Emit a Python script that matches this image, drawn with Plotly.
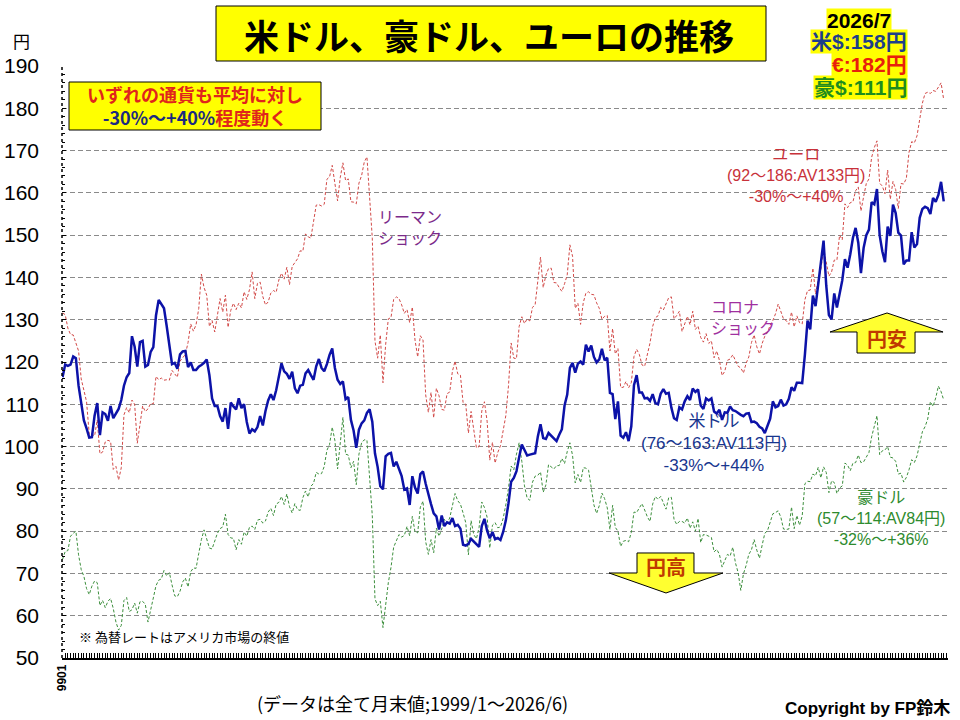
import plotly.graph_objects as go

# 月末値 1999/1 ～ 2026/6, 最後は 2026/7 現在値
usd_jpy = [
    116.4, 119.4, 119.1, 119.4, 121.3, 120.9, 114.4, 110.0, 106.2, 104.3, 102.1, 102.2,  # 1999
    107.3, 110.3, 102.7, 108.1, 107.7, 106.1, 109.6, 106.7, 108.0, 108.9, 111.0, 114.4,  # 2000
    116.4, 117.4, 126.1, 123.6, 118.9, 124.7, 125.0, 118.9, 119.3, 122.4, 123.5, 131.0,  # 2001
    134.7, 133.6, 132.7, 128.5, 124.0, 119.5, 119.8, 118.4, 121.8, 122.5, 122.6, 118.8,  # 2002
    119.9, 118.1, 118.1, 118.9, 119.3, 119.8, 120.6, 116.9, 111.4, 109.6, 109.6, 107.2,  # 2003
    105.9, 109.1, 104.2, 110.4, 109.5, 108.8, 111.4, 109.1, 110.0, 105.8, 103.1, 104.1,  # 2004
    103.6, 104.6, 107.2, 105.0, 108.4, 110.9, 112.4, 111.0, 113.3, 116.4, 119.7, 117.8,  # 2005
    117.2, 116.0, 117.7, 113.8, 112.6, 114.4, 114.6, 117.3, 118.1, 116.9, 115.8, 119.0,  # 2006
    120.7, 118.6, 117.8, 119.5, 121.7, 123.2, 118.6, 115.8, 114.8, 115.4, 111.2, 111.7,  # 2007
    106.3, 103.8, 99.7, 104.0, 105.5, 106.2, 108.0, 108.8, 105.9, 98.4, 95.2, 90.6,  # 2008
    89.9, 97.7, 98.3, 98.5, 95.3, 96.4, 94.7, 93.0, 89.8, 90.1, 86.2, 93.0,  # 2009
    90.3, 88.9, 93.5, 94.1, 91.2, 88.4, 86.4, 84.2, 83.5, 80.4, 83.7, 81.2,  # 2010
    82.1, 81.8, 83.1, 81.2, 81.5, 80.6, 76.8, 76.6, 77.0, 78.2, 77.6, 76.9,  # 2011
    76.3, 81.2, 82.9, 80.1, 78.3, 79.8, 78.1, 78.4, 77.9, 79.8, 82.5, 86.6,  # 2012
    91.7, 92.6, 94.2, 97.5, 100.5, 99.2, 97.9, 98.1, 98.3, 98.4, 102.4, 105.3,  # 2013
    102.0, 101.8, 103.2, 102.5, 101.8, 101.3, 102.8, 104.1, 109.7, 112.3, 118.6, 119.8,  # 2014
    117.5, 119.6, 120.1, 119.4, 124.1, 122.5, 123.9, 121.2, 119.9, 120.6, 123.1, 120.4,  # 2015
    121.0, 112.7, 112.4, 106.5, 110.7, 102.6, 102.1, 103.4, 101.3, 104.8, 114.5, 116.9,  # 2016
    112.8, 112.8, 111.4, 111.5, 110.8, 112.4, 110.3, 110.0, 112.5, 113.6, 112.5, 112.7,  # 2017
    109.2, 106.7, 106.3, 109.3, 108.8, 110.7, 111.9, 111.0, 113.7, 112.9, 113.5, 109.7,  # 2018
    108.9, 111.4, 110.9, 111.4, 108.3, 107.8, 108.7, 106.3, 108.1, 108.0, 109.5, 108.6,  # 2019
    108.4, 107.9, 107.5, 107.2, 107.8, 107.9, 105.8, 105.9, 105.5, 104.7, 104.3, 103.2,  # 2020
    104.7, 106.6, 110.7, 109.3, 109.6, 111.1, 109.7, 110.0, 111.3, 114.0, 113.2, 115.1,  # 2021
    115.1, 115.0, 121.7, 129.8, 127.7, 135.7, 133.2, 138.7, 144.7, 148.7, 138.1, 131.1,  # 2022
    130.1, 136.2, 132.9, 136.3, 139.3, 144.3, 142.3, 145.5, 149.4, 151.7, 148.2, 141.0,  # 2023
    147.0, 150.0, 151.3, 157.8, 157.3, 160.9, 150.0, 146.2, 143.6, 152.0, 149.8, 157.2,  # 2024
    155.2, 150.6, 149.9, 143.1, 144.0, 144.0, 150.7, 147.1, 147.9, 154.1, 156.2, 156.7,  # 2025
    156.4, 155.0, 158.8, 157.9, 159.5, 162.6, 158.0,  # 2026
]

eur_jpy = [
    131.6, 131.2, 128.0, 126.5, 126.4, 124.7, 122.6, 116.0, 113.3, 110.6, 102.9, 103.0,  # 1999
    102.5, 106.3, 98.3, 98.7, 101.1, 101.5, 101.2, 94.6, 95.3, 92.1, 95.0, 107.5,  # 2000
    109.2, 108.0, 111.0, 110.0, 100.8, 105.6, 109.6, 108.3, 108.9, 110.2, 110.1, 116.6,  # 2001
    115.8, 116.2, 115.7, 115.8, 115.7, 118.0, 117.3, 116.4, 120.2, 121.0, 121.8, 124.6,  # 2002
    129.0, 127.3, 128.8, 132.6, 140.8, 137.6, 135.8, 128.4, 129.8, 127.1, 131.5, 135.0,  # 2003
    131.8, 135.8, 128.2, 132.2, 133.9, 132.4, 133.9, 132.8, 136.6, 134.8, 137.1, 141.3,  # 2004
    135.0, 138.6, 138.9, 135.5, 133.5, 134.2, 136.3, 136.9, 136.5, 139.4, 141.0, 139.6,  # 2005
    142.4, 138.3, 142.6, 143.6, 144.4, 146.3, 146.2, 150.3, 149.6, 149.3, 153.4, 157.1,  # 2006
    157.2, 156.9, 157.3, 163.2, 163.8, 166.5, 162.2, 158.1, 163.6, 167.1, 162.9, 163.3,  # 2007
    157.9, 157.8, 157.4, 162.3, 164.1, 167.3, 168.5, 159.9, 149.3, 125.0, 120.9, 126.4,  # 2008
    115.1, 124.1, 130.2, 130.5, 134.8, 135.4, 135.0, 133.5, 131.5, 132.4, 129.3, 133.0,  # 2009
    125.2, 121.2, 126.2, 125.2, 112.2, 108.1, 112.8, 106.8, 113.8, 112.0, 108.8, 108.6,  # 2010
    112.5, 112.9, 117.8, 120.2, 117.2, 116.9, 110.4, 110.0, 103.2, 108.3, 104.4, 99.7,  # 2011
    100.0, 108.4, 110.6, 106.0, 96.8, 101.0, 96.1, 98.6, 100.2, 103.4, 107.3, 114.3,  # 2012
    124.5, 120.9, 120.8, 128.4, 130.7, 129.1, 130.2, 129.7, 132.9, 133.6, 139.2, 144.8,  # 2013
    137.6, 140.5, 142.1, 142.2, 138.8, 138.7, 137.6, 136.7, 138.5, 140.6, 147.7, 145.0,  # 2014
    132.7, 133.9, 128.9, 134.0, 136.3, 136.6, 136.0, 135.9, 134.0, 132.7, 130.1, 130.8,  # 2015
    131.0, 122.6, 127.9, 121.9, 123.2, 114.0, 114.0, 115.4, 113.9, 115.1, 121.3, 123.0,  # 2016
    121.8, 119.3, 119.0, 121.5, 124.5, 128.4, 130.5, 130.9, 132.9, 132.3, 133.9, 135.2,  # 2017
    135.4, 130.2, 131.0, 132.0, 127.2, 129.3, 130.8, 128.8, 132.0, 127.7, 128.5, 125.8,  # 2018
    124.7, 126.7, 124.4, 125.0, 121.0, 122.6, 120.4, 116.8, 117.8, 120.4, 120.7, 121.7,  # 2019
    120.2, 119.0, 118.6, 117.4, 119.7, 121.2, 124.6, 126.4, 123.6, 121.9, 124.4, 126.1,  # 2020
    127.0, 128.7, 129.8, 131.4, 133.7, 131.8, 130.2, 129.8, 128.9, 131.8, 128.3, 130.9,  # 2021
    129.3, 129.0, 134.7, 136.9, 137.0, 142.2, 136.1, 139.4, 141.8, 146.9, 143.6, 140.3,  # 2022
    141.3, 144.1, 144.1, 150.0, 148.9, 157.4, 156.5, 157.7, 157.9, 160.5, 161.4, 155.7,  # 2023
    159.1, 162.2, 163.3, 168.4, 170.7, 172.3, 162.3, 161.6, 159.8, 165.4, 158.5, 162.7,  # 2024
    160.8, 156.3, 162.2, 162.1, 163.4, 169.6, 172.1, 171.8, 173.5, 177.7, 181.2, 183.5,  # 2025
    183.8, 183.5, 184.2, 184.0, 185.0, 186.0, 182.0,  # 2026
]

aud_jpy = [
    73.3, 75.2, 75.4, 78.8, 79.5, 80.0, 74.4, 70.9, 69.3, 66.4, 65.0, 67.0,  # 1999
    68.2, 67.8, 62.4, 63.6, 61.9, 63.4, 64.1, 61.7, 58.5, 56.6, 57.7, 63.6,  # 2000
    64.3, 61.0, 61.4, 63.0, 60.6, 63.3, 63.4, 62.7, 58.5, 61.8, 64.2, 67.1,  # 2001
    68.4, 68.7, 70.7, 69.4, 70.2, 67.3, 64.7, 64.5, 65.8, 68.0, 68.9, 66.8,  # 2002
    70.4, 71.3, 71.2, 74.7, 78.0, 80.3, 78.4, 76.0, 75.8, 77.8, 79.5, 80.6,  # 2003
    81.0, 84.0, 79.2, 78.4, 78.3, 75.6, 78.0, 76.9, 79.8, 78.8, 80.9, 81.2,  # 2004
    80.4, 82.6, 82.8, 81.9, 82.4, 84.5, 85.4, 83.7, 86.4, 86.8, 88.2, 86.3,  # 2005
    88.8, 85.8, 84.3, 86.5, 85.1, 84.9, 87.9, 89.5, 88.1, 90.6, 91.3, 93.9,  # 2006
    93.5, 93.6, 95.3, 99.1, 100.5, 104.6, 101.4, 94.7, 101.8, 106.9, 98.2, 98.0,  # 2007
    95.0, 96.5, 91.0, 98.2, 100.9, 101.6, 101.5, 93.2, 83.7, 64.0, 62.4, 63.4,  # 2008
    57.2, 62.5, 67.8, 71.4, 76.2, 77.7, 79.2, 78.6, 79.0, 81.1, 78.9, 83.5,  # 2009
    79.8, 79.6, 85.7, 87.1, 77.5, 74.5, 78.0, 74.9, 80.7, 78.8, 80.5, 82.8,  # 2010
    81.9, 83.1, 85.8, 88.9, 87.2, 86.4, 84.3, 82.0, 74.4, 82.5, 79.2, 78.2,  # 2011
    80.9, 86.9, 85.6, 83.3, 76.0, 81.4, 82.0, 80.8, 81.0, 83.0, 86.2, 90.1,  # 2012
    95.4, 94.5, 98.2, 100.9, 96.5, 90.7, 87.8, 87.3, 91.6, 93.0, 93.2, 94.0,  # 2013
    89.2, 90.9, 95.7, 95.1, 94.7, 95.5, 95.5, 97.2, 96.0, 98.8, 100.9, 97.9,  # 2014
    91.4, 93.4, 91.5, 95.0, 94.9, 94.4, 90.5, 86.2, 84.2, 86.0, 89.0, 87.7,  # 2015
    85.5, 80.4, 86.1, 80.9, 80.0, 76.4, 77.6, 77.8, 77.5, 79.7, 84.5, 84.4,  # 2016
    85.5, 86.5, 85.0, 83.4, 82.3, 86.4, 88.2, 87.5, 88.2, 86.9, 85.2, 87.9,  # 2017
    88.0, 82.8, 81.6, 82.3, 82.3, 81.9, 83.1, 80.7, 82.2, 80.0, 83.0, 77.3,  # 2018
    79.2, 79.1, 78.7, 78.5, 75.1, 75.7, 74.5, 71.5, 73.0, 74.5, 74.1, 76.2,  # 2019
    72.5, 70.2, 66.0, 69.9, 71.9, 74.5, 75.6, 78.0, 75.5, 73.6, 76.7, 79.5,  # 2020
    80.1, 82.1, 84.1, 84.4, 84.8, 83.3, 80.5, 80.4, 80.5, 85.7, 80.6, 83.7,  # 2021
    81.4, 83.6, 91.2, 91.8, 91.7, 93.5, 93.1, 95.1, 92.6, 95.2, 93.9, 89.1,  # 2022
    91.9, 91.5, 88.9, 90.2, 90.7, 96.1, 95.6, 94.3, 96.1, 96.2, 98.0, 96.2,  # 2023
    96.4, 97.5, 98.6, 102.3, 104.6, 107.3, 98.1, 99.0, 99.2, 100.0, 97.5, 97.3,  # 2024
    96.5, 93.5, 93.7, 91.6, 92.7, 94.5, 96.9, 96.2, 97.8, 100.9, 103.5, 104.7,  # 2025
    106.5, 110.6, 109.5, 111.5, 114.3, 113.0, 111.0,  # 2026
]

y_ticks = [50, 60, 70, 80, 90, 100, 110, 120, 130, 140, 150, 160, 170, 180, 190]
x_tick_label = "9901"

months = list(range(len(usd_jpy)))

JP = "Noto Sans CJK JP"
LAT = "Liberation Sans, Noto Sans CJK JP"
NARROW = "Liberation Sans Narrow, Liberation Sans"


# 画面のピクセル位置 -> paper 座標 (プロット領域 62..948 x 66..658)
def px(x):
    return (x - 62) / 886


def py(y):
    return (658 - y) / 592


def arrow_path(points):
    s = "M " + " L ".join(f"{px(a):.4f},{py(b):.4f}" for a, b in points)
    return s + " Z"


fig = go.Figure()

fig.add_trace(go.Scatter(x=months, y=eur_jpy, mode="lines",
                         line=dict(color="#d24a48", width=1, dash="3px,2px")))
fig.add_trace(go.Scatter(x=months, y=aud_jpy, mode="lines",
                         line=dict(color="#3d8f3d", width=1, dash="3px,2px")))
fig.add_trace(go.Scatter(x=months, y=usd_jpy, mode="lines",
                         line=dict(color="#0c12a8", width=2.5)))

shapes = [
    # 左の点線軸
    dict(type="line", xref="paper", yref="paper", x0=0, x1=0, y0=0, y1=1,
         line=dict(color="black", width=1.5, dash="dot")),
    # タイトル枠
    dict(type="rect", xref="paper", yref="paper", x0=px(216), x1=px(766), y0=py(61), y1=py(6),
         fillcolor="#ffff00", line=dict(color="black", width=1)),
    # 左上の説明枠
    dict(type="rect", xref="paper", yref="paper", x0=px(69), x1=px(321), y0=py(130), y1=py(82),
         fillcolor="#ffff00", line=dict(color="black", width=1)),
    # 円安 (上向き矢印)
    dict(type="path", xref="paper", yref="paper", fillcolor="#ffff30", line=dict(color="black", width=1),
         path=arrow_path([(887, 313), (943, 332), (915, 332), (915, 353), (857, 353), (857, 332), (830, 332)])),
    # 円高 (下向き矢印)
    dict(type="path", xref="paper", yref="paper", fillcolor="#ffff30", line=dict(color="black", width=1),
         path=arrow_path([(637, 553), (694, 553), (694, 573), (723, 573), (666, 593), (609, 573), (637, 573)])),
]


def note(x, y, text, size, color, family=JP, xanchor="center", bold=False, **kw):
    return dict(xref="paper", yref="paper", x=px(x), y=py(y), text=text, showarrow=False,
                xanchor=xanchor, yanchor="middle",
                font=dict(family=family, size=size, color=color, weight="bold" if bold else "normal"),
                **kw)


annotations = [
    note(489, 34, "米ドル、豪ドル、ユーロの推移", 35, "black", bold=True),
    note(21, 41, "円", 17, "black"),
    note(195, 106, "いずれの通貨も平均に対し<br><span style='color:#1b2a80'>-30%～+40%</span>程度動く",
         18, "#e0241c", bold=True),
    note(859, 20, "2026/7", 21, "black", family=LAT, bold=True, bgcolor="#ffff00", borderpad=0),
    note(908, 42, "米$:158円", 21, "#1d3f8a", family=LAT, xanchor="right", bold=True,
         bgcolor="#ffff00", borderpad=0),
    note(908, 64, "€:182円", 21, "#e8200c", family=LAT, xanchor="right", bold=True,
         bgcolor="#ffff00", borderpad=0),
    note(908, 87, "豪$:111円", 21, "#1e8c1e", family=LAT, xanchor="right", bold=True,
         bgcolor="#ffff00", borderpad=0),
    note(376, 228, "リーマン<br>ショック", 16, "#7b2a8a", family=LAT, xanchor="left", align="left"),
    note(709, 318, "コロナ<br>ショック", 16, "#a0309f", family=LAT, xanchor="left", align="left"),
    note(796, 175, "ユーロ<br>(92～186:AV133円)<br>-30%～+40%", 16, "#c8313a", family=LAT),
    note(714, 443, "米ドル<br>(76～163:AV113円)<br>-33%～+44%", 17, "#17358e", family=LAT),
    note(881, 518, "豪ドル<br>(57～114:AV84円)<br>-32%～+36%", 16, "#2e8b2e", family=LAT),
    note(887, 338, "円安", 20, "#c03a00", bold=True),
    note(666, 566, "円高", 20, "#c03a00", bold=True),
    note(77, 636, "※ 為替レートはアメリカ市場の終値", 13, "black", xanchor="left"),
    note(412, 703, "(データは全て月末値;1999/1～2026/6)", 18, "black"),
    note(952, 708, "Copyright by FP鈴木", 17, "black", family=LAT, xanchor="right", bold=True),
]

fig.update_layout(
    width=960, height=720,
    margin=dict(l=62, r=12, t=66, b=62),
    paper_bgcolor="white", plot_bgcolor="white",
    showlegend=False,
    shapes=shapes,
    annotations=annotations,
    font=dict(family=LAT, color="black"),
)

fig.update_xaxes(
    range=[-0.2, 331.6],
    tickmode="array", tickvals=[0], ticktext=[x_tick_label],
    tickangle=-90, tickfont=dict(family=LAT, size=12, weight="bold"),
    ticks="inside", ticklen=5, tickcolor="black",
    minor=dict(tickmode="linear", tick0=0, dtick=1, ticks="inside", ticklen=5, tickcolor="black", tickwidth=1),
    showline=True, linecolor="black", linewidth=1.5,
    showgrid=False, zeroline=False, automargin=False,
)

fig.update_yaxes(
    range=[50, 190],
    tickmode="array", tickvals=y_ticks, ticktext=[str(v) for v in y_ticks],
    tickfont=dict(family=NARROW, size=21, color="black"),
    ticks="inside", ticklen=4, tickcolor="black",
    ticklabelstandoff=22,
    minor=dict(tickmode="linear", tick0=50, dtick=2, ticks="inside", ticklen=3, tickcolor="black"),
    showline=False,
    showgrid=True, gridcolor="#8a8a8a", gridwidth=1, griddash="5px,3px",
    zeroline=False, automargin=False,
)

# ページの余白を消して 960x720 にぴったり合わせる
fig.write_html("out.html", config={"displayModeBar": False},
               post_script="document.body.style.margin='0';")
